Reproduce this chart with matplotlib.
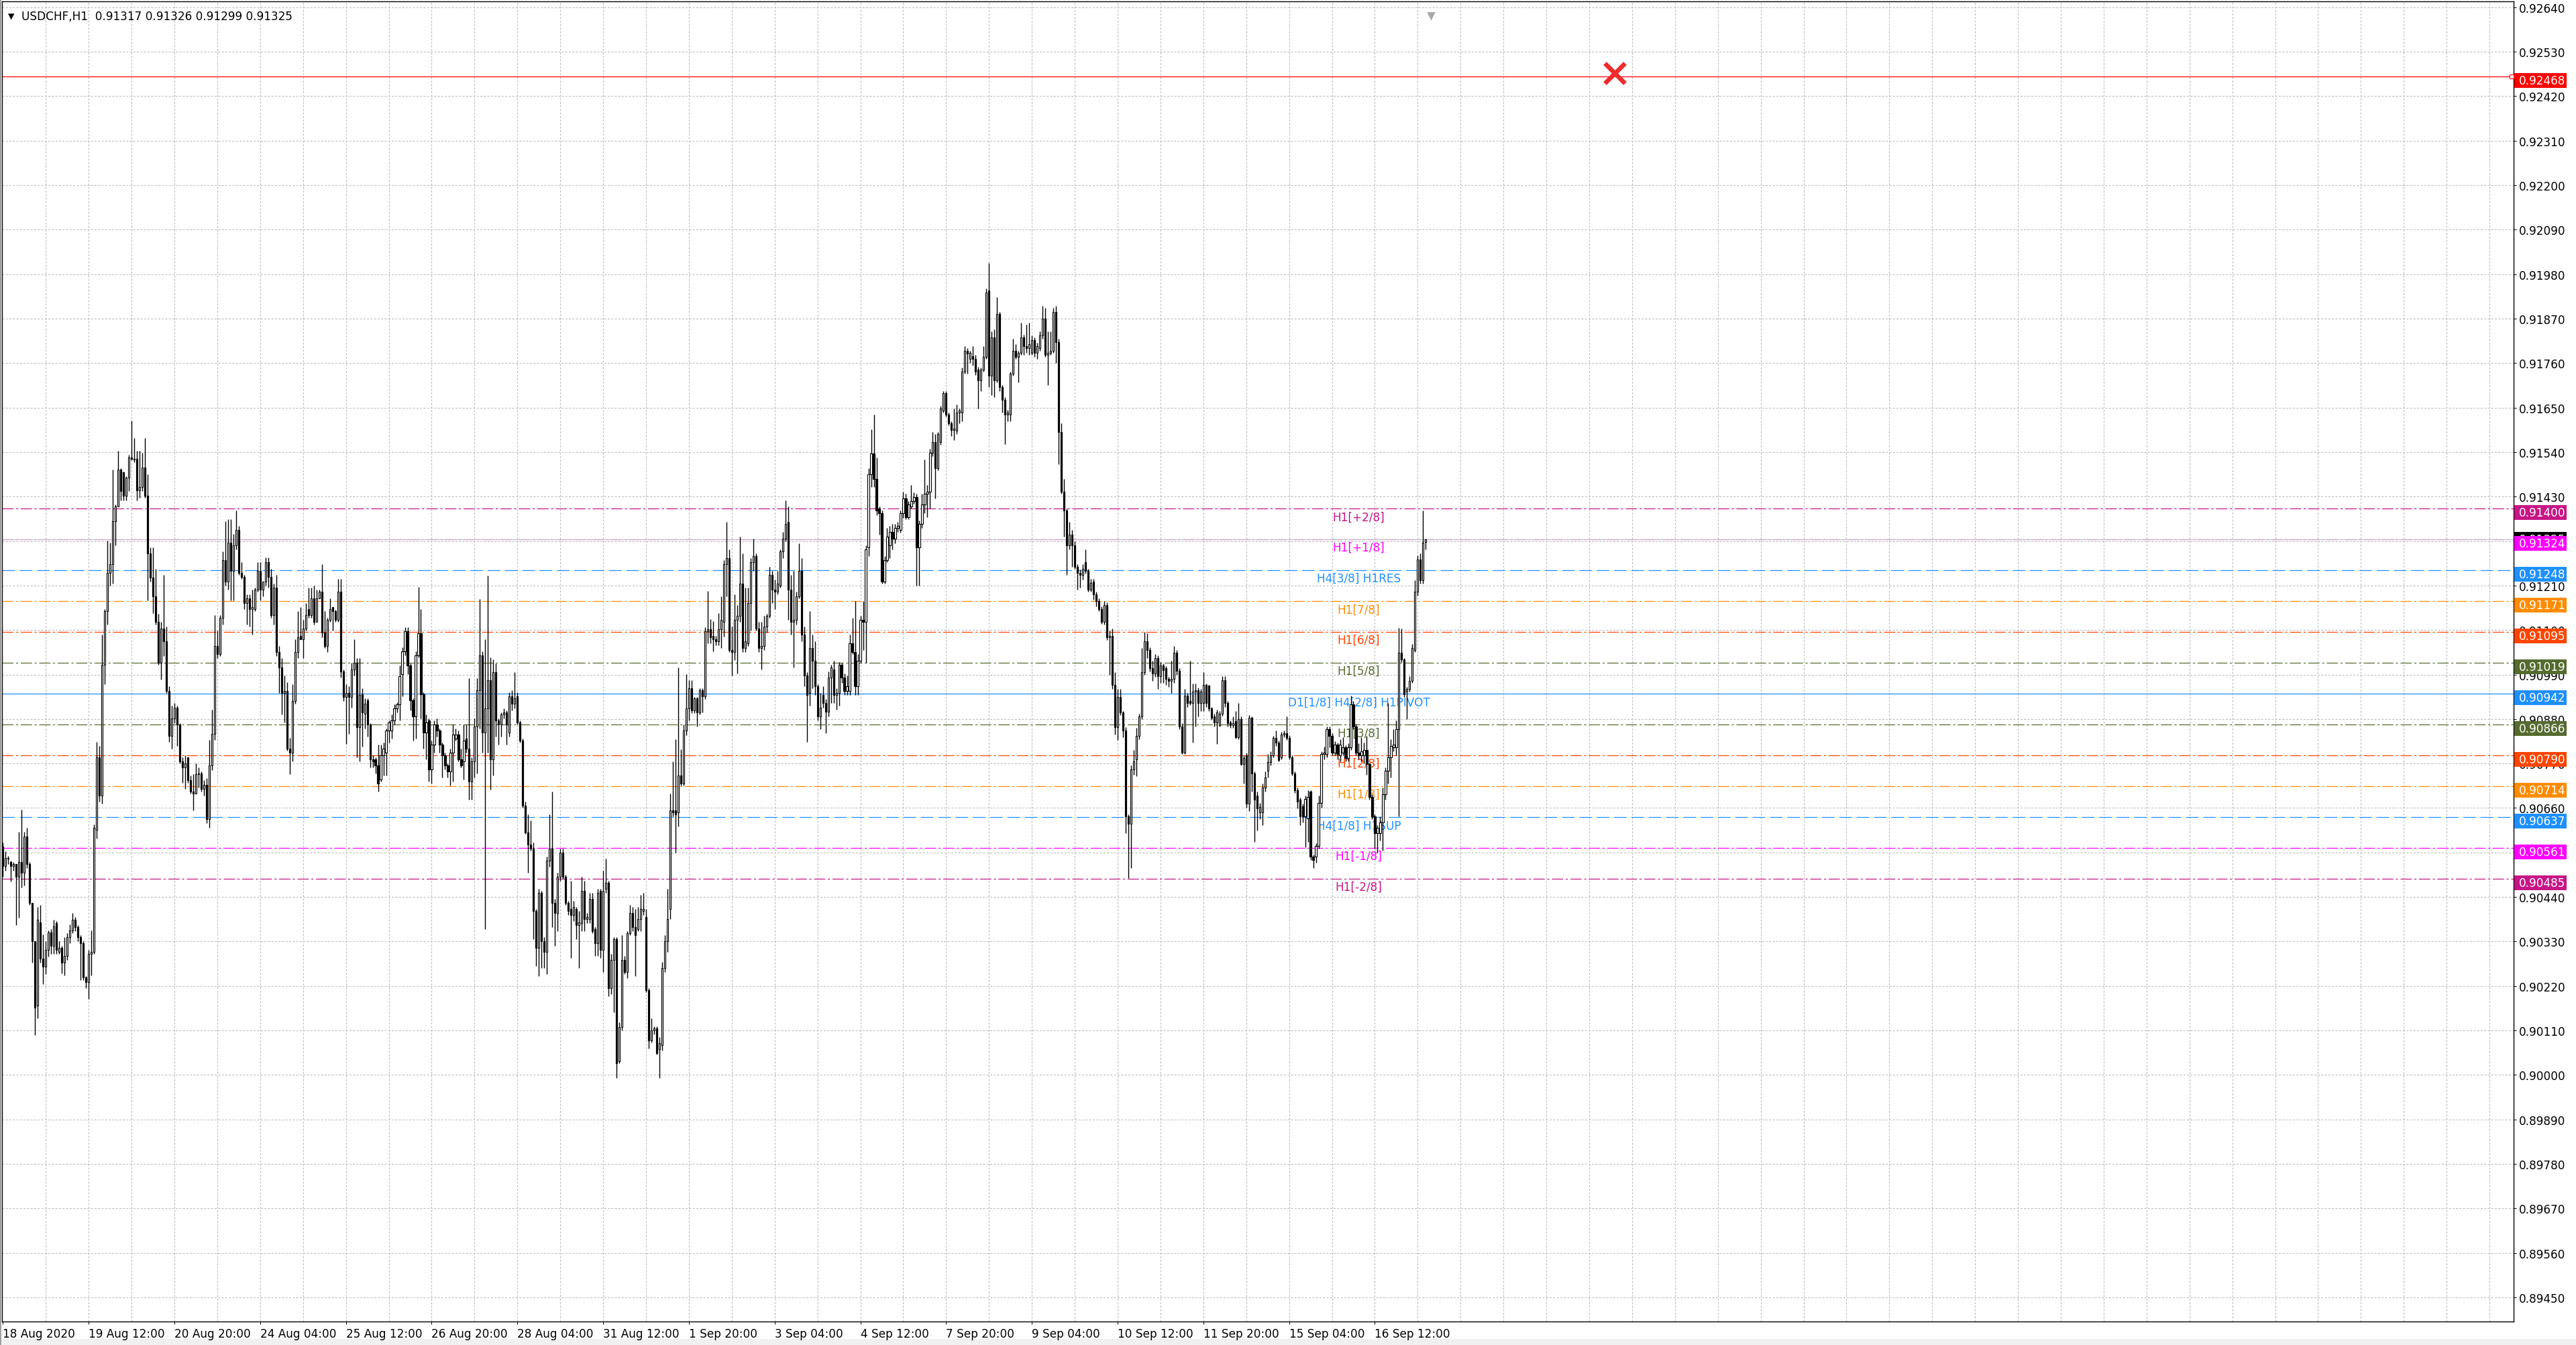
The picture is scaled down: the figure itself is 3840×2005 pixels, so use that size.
import numpy as np
import matplotlib.pyplot as plt
import matplotlib.transforms as mtransforms
from matplotlib.patches import Rectangle

plt.rcParams['font.family'] = ['DejaVu Sans']
plt.rcParams['lines.scale_dashes'] = False

# hourly bars, prices in units of 0.00001
OPEN = [
    90564, 90516, 90537, 90527, 90516, 90521, 90490, 90527, 90500, 90590,
    90521, 90426, 90331, 90172, 90378, 90288, 90267, 90310, 90352, 90320,
    90375, 90305, 90315, 90278, 90294, 90341, 90357, 90384, 90365, 90341,
    90325, 90241, 90230, 90299, 90305, 90606, 90786, 90691, 91014, 91146,
    91241, 91263, 91369, 91406, 91496, 91490, 91432, 91476, 91527, 91524,
    91524, 91445, 91453, 91501, 91432, 91289, 91229, 91183, 91120, 91019,
    91104, 91072, 90950, 90839, 90881, 90908, 90866, 90775, 90760, 90786,
    90728, 90701, 90696, 90744, 90746, 90707, 90717, 90633, 90765, 90844,
    91061, 91040, 91130, 91273, 91220, 91316, 91247, 91310, 91347, 91241,
    91231, 91167, 91178, 91151, 91151, 91199, 91247, 91199, 91220, 91268,
    91231, 91136, 91204, 91045, 91008, 90945, 90950, 90807, 90797, 90924,
    91045, 91085, 91077, 91104, 91152, 91136, 91178, 91120, 91178, 91194,
    91093, 91061, 91125, 91157, 91146, 91125, 91194, 90998, 90934, 90945,
    90934, 91003, 91019, 90860, 90941, 90893, 90926, 90866, 90781, 90781,
    90766, 90731, 90791, 90796, 90851, 90851, 90876, 90906, 90916, 90991,
    91047, 91097, 91012, 90926, 90886, 91037, 91092, 90941, 90846, 90876,
    90756, 90816, 90866, 90851, 90816, 90791, 90766, 90751, 90796, 90831,
    90841, 90781, 90776, 90831, 90806, 90726, 90776, 90861, 90951, 91037,
    90846, 90906, 90976, 90781, 90996, 90876, 90866, 90891, 90896, 90846,
    90936, 90918, 90936, 90871, 90826, 90666, 90600, 90570, 90560, 90405,
    90315, 90450, 90330, 90305, 90530, 90560, 90425, 90400, 90490, 90550,
    90490, 90425, 90410, 90395, 90410, 90370, 90375, 90455, 90385, 90385,
    90435, 90360, 90325, 90455, 90310, 90460, 90475, 90215, 90285, 90335,
    90034, 90119, 90284, 90254, 90350, 90400, 90365, 90360, 90385, 90405,
    90390, 90210, 90085, 90110, 90115, 90064, 90074, 90264, 90330, 90410,
    90655, 90655, 90650, 90740, 90720, 90851, 90906, 90956, 90901, 90931,
    90896, 90951, 90936, 91097, 91102, 91085, 91077, 91072, 91102, 91120,
    91262, 91278, 91051, 91046, 91125, 91135, 91215, 91056, 91067, 91167,
    91268, 91283, 91104, 91056, 91061, 91109, 91135, 91236, 91199, 91194,
    91209, 91294, 91326, 91368, 91199, 91120, 91125, 91183, 91246, 91088,
    90987, 90945, 91056, 91024, 90961, 90887, 90940, 90919, 90898, 90982,
    91003, 90940, 90945, 91014, 90982, 90950, 90950, 91067, 91046, 90961,
    91024, 91125, 91120, 91305, 91485, 91537, 91474, 91400, 91389, 91220,
    91273, 91310, 91342, 91326, 91352, 91347, 91389, 91426, 91379, 91405,
    91418, 91428, 91305, 91363, 91410, 91437, 91442, 91538, 91564, 91500,
    91564, 91643, 91685, 91632, 91611, 91595, 91593, 91638, 91638, 91738,
    91791, 91770, 91777, 91770, 91743, 91717, 91743, 91775, 91940, 91728,
    91823, 91717, 91881, 91701, 91669, 91632, 91632, 91733, 91791, 91775,
    91786, 91823, 91801, 91796, 91786, 91817, 91786, 91796, 91828, 91870,
    91780, 91786, 91790, 91886, 91812, 91590, 91442, 91395, 91310, 91336,
    91310, 91257, 91241, 91236, 91268, 91247, 91199, 91219, 91189, 91171,
    91151, 91120, 91161, 91082, 91086, 90965, 90859, 90934, 90896, 90852,
    90639, 90621, 90755, 90780, 90838, 90886, 90996, 91072, 91051, 91006,
    90993, 91031, 90986, 91013, 91006, 90979, 90975, 90979, 91044, 90999,
    90862, 90797, 90938, 90925, 90920, 90948, 90951, 90920, 90920, 90965,
    90962, 90907, 90886, 90872, 90865, 90893, 90976, 90920, 90872, 90865,
    90874, 90835, 90879, 90769, 90790, 90670, 90883, 90745, 90690, 90649,
    90649, 90711, 90752, 90773, 90790, 90834, 90821, 90786, 90841, 90845,
    90834, 90786, 90745, 90704, 90680, 90664, 90639, 90635, 90700, 90539,
    90539, 90566, 90673, 90793, 90793, 90855, 90838, 90797, 90817, 90790,
    90797, 90810, 90783, 90810, 90917, 90862, 90797, 90790, 90790, 90804,
    90769, 90687, 90639, 90597, 90597, 90625, 90694, 90752, 90786, 90810,
    90810, 90855, 91044, 91027, 90948, 90955, 90975, 91051, 91195, 91275,
    91223, 91317,
]

HIGH = [
    90574, 90553, 90542, 90530, 90527, 90521, 90601, 90656, 90601, 90611,
    90527, 90426, 90331, 90415, 90421, 90347, 90330, 90357, 90360, 90384,
    90380, 90330, 90320, 90341, 90350, 90373, 90400, 90390, 90370, 90345,
    90330, 90245, 90310, 90357, 90620, 90823, 90813, 91088, 91151, 91321,
    91316, 91496, 91411, 91543, 91500, 91492, 91480, 91533, 91617, 91575,
    91543, 91543, 91538, 91575, 91485, 91305, 91305, 91252, 91140, 91120,
    91236, 91109, 90961, 90913, 90920, 90913, 90870, 90786, 90791, 90786,
    90740, 90744, 90770, 90760, 90750, 90728, 90733, 90828, 90903, 91136,
    91098, 91136, 91294, 91369, 91374, 91374, 91337, 91395, 91358, 91268,
    91236, 91189, 91189, 91199, 91204, 91268, 91268, 91220, 91279, 91279,
    91252, 91215, 91236, 91061, 91030, 90987, 90971, 90833, 90966, 91077,
    91146, 91157, 91125, 91167, 91204, 91204, 91210, 91199, 91199, 91263,
    91146, 91130, 91178, 91157, 91150, 91226, 91226, 91003, 90966, 90961,
    91019, 91077, 91030, 91030, 90956, 90931, 90931, 90870, 90790, 90785,
    90816, 90816, 90821, 90856, 90876, 90891, 90916, 90921, 91012, 91057,
    91107, 91107, 91017, 90931, 91047, 91207, 91152, 90946, 90891, 90881,
    90826, 90876, 90881, 90856, 90821, 90796, 90771, 90806, 90866, 90856,
    90851, 90806, 90866, 90866, 90981, 90786, 90881, 90981, 91177, 91047,
    91077, 91235, 91032, 91027, 91017, 90881, 90896, 90906, 90901, 90946,
    90951, 90996, 90946, 90876, 90831, 90676, 90645, 90630, 90575, 90410,
    90460, 90455, 90340, 90540, 90645, 90700, 90435, 90500, 90560, 90560,
    90495, 90430, 90480, 90430, 90415, 90405, 90490, 90480, 90400, 90450,
    90450, 90365, 90460, 90460, 90505, 90535, 90480, 90300, 90340, 90340,
    90130, 90345, 90295, 90355, 90420, 90415, 90410, 90415, 90445, 90450,
    90410, 90215, 90140, 90120, 90120, 90094, 90280, 90345, 90460, 90695,
    90775, 90830, 91007, 90805, 90866, 90991, 90976, 90976, 90935, 90935,
    90956, 90956, 91107, 91197, 91127, 91122, 91085, 91142, 91183, 91273,
    91368, 91299, 91109, 91188, 91162, 91331, 91289, 91204, 91204, 91278,
    91326, 91290, 91120, 91120, 91135, 91140, 91257, 91246, 91225, 91246,
    91299, 91342, 91421, 91405, 91236, 91246, 91194, 91315, 91278, 91109,
    90995, 91146, 91088, 91072, 90966, 90945, 90961, 90930, 90998, 91014,
    91024, 90956, 91020, 91019, 90993, 90987, 91088, 91130, 91172, 91040,
    91135, 91172, 91310, 91500, 91596, 91632, 91527, 91405, 91395, 91283,
    91352, 91358, 91363, 91363, 91368, 91395, 91442, 91437, 91418, 91458,
    91440, 91437, 91370, 91437, 91521, 91458, 91548, 91590, 91585, 91590,
    91654, 91690, 91690, 91637, 91616, 91648, 91658, 91648, 91749, 91801,
    91796, 91790, 91801, 91780, 91750, 91749, 91801, 91944, 92008, 91839,
    91844, 91923, 91886, 91706, 91675, 91645, 91738, 91820, 91807, 91791,
    91860, 91830, 91855, 91860, 91828, 91823, 91810, 91839, 91902, 91897,
    91839, 91839, 91897, 91902, 91820, 91611, 91474, 91400, 91368, 91347,
    91320, 91262, 91250, 91262, 91299, 91252, 91226, 91226, 91195, 91178,
    91158, 91171, 91168, 91099, 91103, 90996, 90955, 90955, 90900, 90860,
    90645, 90765, 90803, 90858, 90893, 91055, 91096, 91092, 91058, 91024,
    91040, 91037, 91020, 91017, 91010, 90985, 91024, 91061, 91051, 91005,
    90870, 90955, 90945, 91024, 90968, 90968, 90958, 90955, 90996, 90968,
    90965, 90910, 90893, 90903, 90900, 90986, 90986, 90925, 90876, 90886,
    90900, 90920, 90886, 90790, 90796, 90890, 90886, 90750, 90700, 90673,
    90720, 90750, 90793, 90800, 90838, 90852, 90826, 90848, 90852, 90886,
    90840, 90790, 90750, 90710, 90685, 90670, 90690, 90704, 90704, 90545,
    90573, 90690, 90800, 90812, 90862, 90862, 90845, 90825, 90822, 90830,
    90835, 90815, 90820, 90938, 90925, 90868, 90820, 90835, 90821, 90838,
    90772, 90694, 90645, 90618, 90640, 90710, 90760, 90920, 90830, 90855,
    90876, 91106, 91103, 91030, 90960, 90986, 91065, 91223, 91285, 91290,
    91395, 91326,
]

LOW = [
    90490, 90505, 90521, 90479, 90505, 90371, 90389, 90463, 90468, 90511,
    90420, 90278, 90098, 90140, 90278, 90225, 90250, 90293, 90300, 90300,
    90300, 90300, 90251, 90246, 90285, 90325, 90350, 90355, 90330, 90235,
    90235, 90215, 90188, 90246, 90300, 90585, 90675, 90670, 90966, 91114,
    91210, 91215, 91310, 91405, 91420, 91420, 91420, 91443, 91520, 91515,
    91421, 91427, 91443, 91427, 91173, 91220, 91141, 91114, 91014, 90977,
    91035, 90945, 90823, 90807, 90870, 90813, 90770, 90722, 90707, 90722,
    90696, 90654, 90696, 90710, 90700, 90690, 90622, 90611, 90754, 90828,
    91030, 91035, 91114, 91210, 91199, 91173, 91173, 91300, 91236, 91226,
    91151, 91114, 91109, 91088, 91146, 91194, 91173, 91183, 91210, 91204,
    91130, 91114, 91035, 90945, 90892, 90871, 90802, 90744, 90775, 90918,
    91030, 91077, 91030, 91098, 91130, 91130, 91114, 91120, 91178, 91082,
    91056, 91045, 91120, 91098, 91120, 91120, 90982, 90924, 90818, 90844,
    90908, 90987, 90786, 90775, 90811, 90856, 90836, 90761, 90760, 90746,
    90701, 90725, 90741, 90741, 90821, 90831, 90866, 90896, 90876, 90936,
    91037, 90991, 90901, 90826, 90831, 91032, 90881, 90806, 90781, 90726,
    90721, 90796, 90836, 90796, 90736, 90756, 90736, 90716, 90726, 90826,
    90776, 90761, 90731, 90796, 90681, 90681, 90736, 90746, 90856, 90796,
    90360, 90796, 90706, 90741, 90836, 90816, 90836, 90881, 90816, 90836,
    90901, 90906, 90866, 90821, 90661, 90596, 90500, 90555, 90335, 90270,
    90245, 90265, 90265, 90250, 90515, 90365, 90320, 90355, 90480, 90485,
    90420, 90395, 90290, 90380, 90335, 90265, 90355, 90355, 90375, 90375,
    90350, 90295, 90295, 90290, 90255, 90450, 90195, 90200, 90155, 89993,
    90029, 90110, 90250, 90240, 90345, 90355, 90245, 90355, 90355, 90395,
    90205, 90065, 90080, 90100, 90050, 89993, 90060, 90255, 90305, 90385,
    90640, 90550, 90615, 90715, 90715, 90840, 90876, 90895, 90895, 90861,
    90891, 90896, 90930, 91067, 91067, 91047, 91062, 91062, 91056, 91083,
    91183, 91046, 90987, 91025, 90993, 91120, 91046, 91046, 91061, 91098,
    91246, 91098, 91046, 91003, 91050, 91093, 91130, 91167, 91151, 91188,
    91204, 91278, 91320, 91125, 91088, 91008, 91113, 91178, 91072, 90961,
    90823, 90913, 90956, 90940, 90876, 90855, 90908, 90845, 90887, 90919,
    90919, 90903, 90913, 90970, 90940, 90940, 90940, 91040, 90940, 90940,
    91019, 91051, 91019, 91283, 91453, 91453, 91384, 91336, 91215, 91215,
    91268, 91278, 91299, 91315, 91342, 91340, 91378, 91374, 91374, 91400,
    91412, 91210, 91210, 91352, 91389, 91379, 91400, 91530, 91426, 91495,
    91558, 91638, 91627, 91606, 91580, 91569, 91585, 91611, 91616, 91733,
    91733, 91760, 91754, 91730, 91648, 91690, 91738, 91770, 91701, 91680,
    91675, 91712, 91690, 91638, 91559, 91616, 91616, 91728, 91770, 91712,
    91780, 91780, 91786, 91780, 91780, 91775, 91770, 91790, 91820, 91775,
    91706, 91780, 91785, 91760, 91510, 91437, 91331, 91236, 91300, 91257,
    91252, 91199, 91204, 91225, 91240, 91195, 91195, 91175, 91158, 91147,
    91116, 91113, 91075, 90989, 90955, 90841, 90828, 90890, 90835, 90597,
    90487, 90511, 90742, 90738, 90830, 90880, 90990, 91030, 90998, 90975,
    90985, 90955, 90970, 90969, 90965, 90960, 90945, 90970, 90990, 90855,
    90793, 90793, 90910, 90915, 90821, 90862, 90886, 90900, 90900, 90910,
    90900, 90878, 90862, 90818, 90862, 90888, 90910, 90862, 90858, 90858,
    90831, 90830, 90765, 90721, 90660, 90652, 90700, 90577, 90604, 90632,
    90618, 90700, 90735, 90766, 90786, 90814, 90776, 90780, 90835, 90828,
    90780, 90740, 90697, 90659, 90618, 90625, 90563, 90577, 90532, 90511,
    90525, 90559, 90660, 90780, 90786, 90810, 90790, 90790, 90780, 90775,
    90790, 90776, 90775, 90804, 90855, 90790, 90780, 90775, 90770, 90742,
    90680, 90632, 90559, 90549, 90580, 90555, 90680, 90720, 90735, 90800,
    90790, 90639, 91020, 90935, 90880, 90948, 90970, 91045, 91185, 91215,
    91215, 91299,
]

CLOSE = [
    90516, 90537, 90534, 90516, 90521, 90490, 90527, 90500, 90590, 90521,
    90426, 90331, 90167, 90384, 90288, 90267, 90310, 90352, 90320, 90368,
    90310, 90315, 90278, 90294, 90341, 90357, 90384, 90365, 90341, 90325,
    90241, 90230, 90299, 90305, 90611, 90786, 90691, 91014, 91146, 91241,
    91263, 91369, 91406, 91496, 91443, 91432, 91476, 91527, 91524, 91522,
    91445, 91453, 91501, 91432, 91289, 91229, 91183, 91120, 91019, 91104,
    91072, 90950, 90839, 90881, 90908, 90866, 90775, 90760, 90770, 90728,
    90701, 90696, 90744, 90746, 90707, 90717, 90633, 90765, 90844, 91061,
    91040, 91130, 91273, 91220, 91316, 91247, 91310, 91347, 91241, 91231,
    91167, 91178, 91151, 91157, 91199, 91247, 91199, 91220, 91268, 91231,
    91136, 91204, 91045, 91008, 90945, 90950, 90807, 90797, 90924, 91045,
    91082, 91077, 91104, 91136, 91136, 91178, 91120, 91178, 91194, 91093,
    91061, 91125, 91151, 91146, 91125, 91194, 90998, 90934, 90945, 90934,
    91003, 91019, 90860, 90940, 90896, 90918, 90866, 90781, 90776, 90766,
    90721, 90791, 90806, 90851, 90871, 90876, 90906, 90916, 90986, 91047,
    91097, 91012, 90926, 90886, 91037, 91092, 90941, 90846, 90871, 90756,
    90816, 90866, 90851, 90816, 90791, 90766, 90751, 90796, 90841, 90841,
    90781, 90766, 90826, 90806, 90726, 90776, 90861, 90951, 91037, 90846,
    90906, 90976, 90781, 90996, 90876, 90866, 90891, 90896, 90866, 90936,
    90918, 90931, 90871, 90826, 90666, 90600, 90570, 90560, 90405, 90315,
    90450, 90330, 90305, 90530, 90560, 90425, 90400, 90490, 90550, 90490,
    90425, 90405, 90395, 90415, 90370, 90377, 90455, 90385, 90390, 90435,
    90355, 90325, 90450, 90310, 90455, 90475, 90215, 90285, 90335, 90029,
    90119, 90284, 90254, 90350, 90400, 90365, 90345, 90385, 90410, 90410,
    90210, 90085, 90110, 90115, 90054, 90079, 90264, 90330, 90385, 90655,
    90650, 90645, 90740, 90720, 90851, 90906, 90956, 90901, 90931, 90896,
    90951, 90936, 91097, 91102, 91082, 91077, 91072, 91102, 91125, 91262,
    91278, 91051, 91046, 91125, 91135, 91215, 91056, 91072, 91167, 91268,
    91283, 91104, 91056, 91061, 91109, 91135, 91236, 91199, 91194, 91215,
    91294, 91326, 91363, 91199, 91120, 91125, 91183, 91246, 91088, 90987,
    90940, 91056, 91024, 90961, 90887, 90908, 90919, 90898, 90982, 91008,
    90940, 90945, 91014, 90982, 90950, 90961, 91067, 91046, 90961, 91024,
    91125, 91120, 91299, 91485, 91537, 91474, 91395, 91389, 91220, 91273,
    91331, 91342, 91326, 91352, 91358, 91389, 91426, 91379, 91411, 91418,
    91428, 91305, 91363, 91410, 91437, 91442, 91538, 91564, 91500, 91585,
    91648, 91685, 91632, 91611, 91595, 91598, 91638, 91643, 91738, 91791,
    91784, 91786, 91770, 91738, 91717, 91743, 91775, 91934, 91728, 91823,
    91717, 91881, 91701, 91669, 91632, 91637, 91733, 91791, 91775, 91786,
    91823, 91801, 91796, 91807, 91817, 91786, 91801, 91828, 91870, 91780,
    91786, 91790, 91886, 91812, 91590, 91442, 91395, 91310, 91336, 91310,
    91257, 91241, 91236, 91252, 91247, 91199, 91216, 91189, 91171, 91151,
    91120, 91161, 91082, 91086, 90965, 90859, 90934, 90896, 90852, 90639,
    90621, 90755, 90776, 90838, 90886, 90996, 91072, 91051, 91006, 90993,
    91031, 90986, 91013, 91000, 90979, 90975, 90979, 91044, 90999, 90862,
    90797, 90938, 90920, 90920, 90948, 90951, 90920, 90948, 90965, 90920,
    90907, 90883, 90872, 90896, 90893, 90976, 90920, 90869, 90865, 90869,
    90835, 90879, 90769, 90783, 90670, 90883, 90745, 90680, 90659, 90662,
    90711, 90735, 90773, 90790, 90834, 90821, 90779, 90841, 90845, 90834,
    90786, 90745, 90704, 90676, 90639, 90639, 90683, 90687, 90539, 90531,
    90566, 90673, 90793, 90797, 90855, 90838, 90797, 90817, 90793, 90817,
    90810, 90783, 90810, 90917, 90862, 90797, 90790, 90800, 90804, 90769,
    90687, 90639, 90597, 90611, 90625, 90694, 90752, 90786, 90814, 90817,
    90855, 91044, 91027, 90941, 90955, 90975, 91055, 91195, 91275, 91223,
    91316, 91325,
]

DATE_LABELS = ["18 Aug 2020", "19 Aug 12:00", "20 Aug 20:00", "24 Aug 04:00",
               "25 Aug 12:00", "26 Aug 20:00", "28 Aug 04:00", "31 Aug 12:00",
               "1 Sep 20:00", "3 Sep 04:00", "4 Sep 12:00", "7 Sep 20:00",
               "9 Sep 04:00", "10 Sep 12:00", "11 Sep 20:00", "15 Sep 04:00",
               "16 Sep 12:00"]

PRICE_TICKS = ["0.89450", "0.89560", "0.89670", "0.89780", "0.89890", "0.90000",
               "0.90110", "0.90220", "0.90330", "0.90440", "0.90550", "0.90660",
               "0.90770", "0.90880", "0.90990", "0.91100", "0.91210", "0.91320",
               "0.91430", "0.91540", "0.91650", "0.91760", "0.91870", "0.91980",
               "0.92090", "0.92200", "0.92310", "0.92420", "0.92530", "0.92640"]

LEVEL_PRICES = [0.91400, 0.91324, 0.91248, 0.91171, 0.91095, 0.91019, 0.90942,
                0.90866, 0.90790, 0.90714, 0.90637, 0.90561, 0.90485]
LEVEL_NAMES = ["H1[+2/8]", "H1[+1/8]", "H4[3/8] H1RES", "H1[7/8]", "H1[6/8]",
               "H1[5/8]", "D1[1/8] H4[2/8] H1PIVOT", "H1[3/8]", "H1[2/8]",
               "H1[1/8]", "H4[1/8] H1SUP", "H1[-1/8]", "H1[-2/8]"]
LEVEL_COLORS = ["#C71585", "#FF00FF", "#1E90FF", "#FF8C00", "#FF4500", "#556B2F",
                "#1E90FF", "#556B2F", "#FF4500", "#FF8C00", "#1E90FF", "#FF00FF",
                "#C71585"]
LEVEL_KINDS = ["dashdot", "dashdot", "dash", "dashdot", "dashdot", "dashdot", "solid",
               "dashdot", "dashdot", "dashdot", "dash", "dashdot", "dashdot"]

ALERT_PRICE = 0.92468
BID_PRICE = 0.91325
TITLE = "USDCHF,H1  0.91317 0.91326 0.91299 0.91325"

W, H = 3840, 2006
AX_L, AX_R, AX_T, AX_B = 3, 3747, 3, 1971
PX_PER_PRICE = 60300.0


def line_style(kind):
    if kind == "dash":
        return (0, (6.8, 2.5))
    if kind == "dashdot":
        return (0, (6.0, 1.4, 1.1, 1.4))
    return "-"


def price_box(ax, trans, price, color, center, z):
    # each tag gets its own layer so a later tag hides the one below it
    h = 22 / PX_PER_PRICE
    ax.add_patch(Rectangle((0.0003, center - h / 2), 0.0208, h, transform=trans,
                           facecolor=color, edgecolor="none", clip_on=False, zorder=z))
    ax.text(0.0021, center, f"{price:.5f}", transform=trans, color="white",
            fontsize=6.1, ha="left", va="center", clip_on=False, zorder=z + 0.05)


def main():
    o = np.array(OPEN) / 1e5
    hi = np.array(HIGH) / 1e5
    lo = np.array(LOW) / 1e5
    c = np.array(CLOSE) / 1e5
    assert len(o) == len(hi) == len(lo) == len(c)
    x = np.arange(len(o))

    fig = plt.figure(figsize=(W / 200, H / 200), dpi=200)
    ax = fig.add_axes([AX_L / W, 1 - AX_B / H, (AX_R - AX_L) / W, (AX_B - AX_T) / H])
    ax.set_xlim(-0.35, 937.0)
    ax.set_ylim(0.893905, 0.926542)

    # grid
    tick_vals = [float(t) for t in PRICE_TICKS]
    for v in tick_vals:
        ax.axhline(v, color="#BDBDBD", lw=0.4, ls=(0, (1.1, 0.8)), zorder=0)
    for i in range(16, 937, 16):
        ax.axvline(i, color="#BDBDBD", lw=0.4, ls=(0, (1.1, 0.8)), zorder=0)

    # level lines and their labels
    for p, name, col, kind in zip(LEVEL_PRICES, LEVEL_NAMES, LEVEL_COLORS, LEVEL_KINDS):
        ax.axhline(p, color=col, lw=0.45, ls=line_style(kind), zorder=1)
        ax.text(506, p - 3 / PX_PER_PRICE, name, color=col, fontsize=6.1,
                ha="center", va="top", zorder=2)
    ax.axhline(BID_PRICE, color="#C0C0C0", lw=0.45, zorder=1)
    ax.axhline(ALERT_PRICE, color="#FF0000", lw=0.45, zorder=1)
    ax.plot([936.3], [ALERT_PRICE], marker="s", ms=2.2, mfc="white", mec="#FF0000",
            mew=0.4, zorder=3, clip_on=False)
    ax.plot([601.6], [0.92477], marker="x", ms=11, mew=2.4, color="#EE2C2C", zorder=3)

    # candles
    top = np.maximum(hi, np.maximum(o, c))
    bot = np.minimum(lo, np.minimum(o, c))
    ax.vlines(x, bot, top, color="black", lw=0.5, zorder=3)
    body_lo = np.minimum(o, c)
    body_h = np.maximum(np.abs(c - o), 0.000012)
    colors = np.where(c >= o, "white", "black")
    ax.bar(x, body_h, bottom=body_lo, width=0.55, color=colors, edgecolor="black",
           linewidth=0.42, zorder=4)

    # axes look
    for s in ax.spines.values():
        s.set_color("black")
        s.set_linewidth(0.5)
    ax.yaxis.tick_right()
    ax.set_yticks(tick_vals)
    ax.set_yticklabels(PRICE_TICKS)
    ax.tick_params(axis="y", which="both", left=False, right=True, length=1.4,
                   width=0.36, pad=1.4, labelsize=6.1, colors="black")
    ax.set_xticks(range(0, 32 * len(DATE_LABELS), 32))
    ax.set_xticklabels(DATE_LABELS, ha="left")
    ax.tick_params(axis="x", length=1.4, width=0.36, pad=2.0, labelsize=6.1,
                   colors="black")

    # coloured price tags on the right scale
    trans = mtransforms.blended_transform_factory(
        mtransforms.Affine2D().translate(1.0, 0) + ax.transAxes, ax.transData)
    z = 5.0
    price_box(ax, trans, ALERT_PRICE, "#FF0000", ALERT_PRICE - 6 / PX_PER_PRICE, z)
    z += 0.1
    price_box(ax, trans, BID_PRICE, "#000000", BID_PRICE, z)
    for p, col in zip(LEVEL_PRICES, LEVEL_COLORS):
        z += 0.1
        price_box(ax, trans, p, col, p - 6 / PX_PER_PRICE, z)

    # title and chart shift marker
    ax.text(0.0025, 0.9886, "\u25bc", transform=ax.transAxes, fontsize=4.4,
            ha="left", va="center", zorder=8)
    ax.text(0.0078, 0.9886, TITLE, transform=ax.transAxes, fontsize=6.1,
            ha="left", va="center", zorder=8)
    ax.plot([533], [0.9262], marker="v", ms=3.2, color="#A8A8A8", zorder=8,
            clip_on=False)

    # window frame bits
    fig.patches.append(Rectangle((0, 0), 1, 9 / H, transform=fig.transFigure,
                                 facecolor="#F0F0F0", edgecolor="none", zorder=-1))
    fig.patches.append(Rectangle((0, 0), 2 / W, 1, transform=fig.transFigure,
                                 facecolor="#A0A0A0", edgecolor="none", zorder=-1))

    fig.savefig("out.png", dpi=200, facecolor="white")


if __name__ == "__main__":
    main()
